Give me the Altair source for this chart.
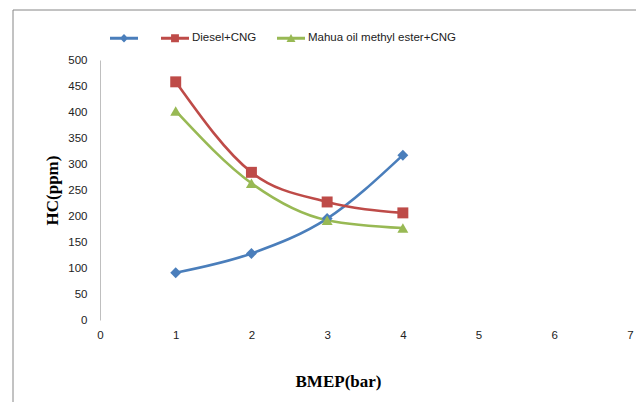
import altair as alt
import pandas as pd

bmep = [1, 2, 3, 4]
series_names = ["Series1", "Diesel+CNG", "Mahua oil methyl ester+CNG"]
hc_series1 = [91, 128, 195, 317]
hc_diesel = [458, 284, 227, 206]
hc_mahua = [402, 263, 192, 177]
x_ticks = [0, 1, 2, 3, 4, 5, 6, 7]
y_ticks = [0, 50, 100, 150, 200, 250, 300, 350, 400, 450, 500]

colors = ["#4a7ebb", "#be4b48", "#98b954"]
marker_shapes = ["diamond", "square", "triangle-up"]
bar = "M-1,-0.1L1,-0.1L1,0.1L-1,0.1Z"
legend_shapes = [
    bar + "M0,-0.3L0.3,0L0,0.3L-0.3,0Z",
    bar + "M-0.28,-0.28L0.28,-0.28L0.28,0.28L-0.28,0.28Z",
    bar + "M0,-0.3L0.32,0.26L-0.32,0.26Z",
]

rows = []
for name, vals in zip(series_names, [hc_series1, hc_diesel, hc_mahua]):
    for xv, yv in zip(bmep, vals):
        rows.append({"BMEP": xv, "HC": yv, "series": name})
df = pd.DataFrame(rows)

FONT = "Liberation Sans"
TFONT = "Liberation Serif"

x_enc = alt.X(
    "BMEP:Q",
    scale=alt.Scale(domain=[0, 7], nice=False),
    axis=alt.Axis(
        values=x_ticks, format="d", title="BMEP(bar)", grid=False, domain=False, ticks=False,
        labelPadding=9, labelFont=FONT, labelFontSize=11.5, labelColor="#222",
        labelOverlap=False, labelFlush=False,
        titleFont=TFONT, titleFontSize=17, titleFontWeight="bold", titleColor="#000",
        titleX=238, titleY=61, titleBaseline="middle", titleAnchor="middle",
    ),
)
y_enc = alt.Y(
    "HC:Q",
    scale=alt.Scale(domain=[0, 500], nice=False),
    axis=alt.Axis(
        values=y_ticks, format="d", title="HC(ppm)", grid=False, domain=True, domainColor="#bfbfbf",
        ticks=False, labelPadding=13, labelFont=FONT, labelFontSize=11.5, labelColor="#222",
        labelOverlap=False, labelFlush=False,
        titleFont=TFONT, titleFontSize=17, titleFontWeight="bold", titleColor="#000",
        titleX=-48, titleY=130, titleBaseline="middle", titleAngle=-90,
    ),
)

color_scale = alt.Scale(domain=series_names, range=colors)

base = alt.Chart(df)

lines = base.mark_line(interpolate="monotone", strokeWidth=2.6).encode(
    x=x_enc, y=y_enc,
    color=alt.Color("series:N", scale=color_scale, legend=None),
)

points = base.mark_point(filled=True, size=120, opacity=1).encode(
    x=x_enc, y=y_enc,
    color=alt.Color("series:N", scale=color_scale, legend=None),
    shape=alt.Shape("series:N", scale=alt.Scale(domain=series_names, range=marker_shapes), legend=None),
)

leg = dict(
    orient="none", legendX=10, legendY=-36, direction="horizontal", title=None,
    symbolSize=784, labelOffset=3, columnPadding=20, labelFont=FONT,
    labelFontSize=11.5, labelColor="#222", symbolStrokeWidth=0, symbolOpacity=1,
    labelExpr="datum.label == 'Series1' ? '' : datum.label",
)

legend_layer = base.mark_point(filled=True, opacity=0).encode(
    x=x_enc, y=y_enc,
    color=alt.Color("series:N", scale=color_scale, legend=alt.Legend(**leg)),
    shape=alt.Shape(
        "series:N", scale=alt.Scale(domain=series_names, range=legend_shapes),
        legend=alt.Legend(**leg),
    ),
)

frame = alt.Chart(alt.Data(values=[{}])).mark_rect(
    fill="white", fillOpacity=0, stroke="#868686", strokeWidth=1
).encode(
    x=alt.value(-87), x2=alt.value(700), y=alt.value(-50), y2=alt.value(500)
)

chart = alt.layer(frame, lines, points, legend_layer).resolve_scale(
    shape="independent", color="independent"
).properties(
    width=530, height=260,
    autosize=alt.AutoSizeParams(type="none"),
    padding={"left": 92, "top": 52, "right": 6, "bottom": 82},
).configure_view(stroke=None)

chart.save("out.html", embed_options={"renderer": "svg", "actions": False})
